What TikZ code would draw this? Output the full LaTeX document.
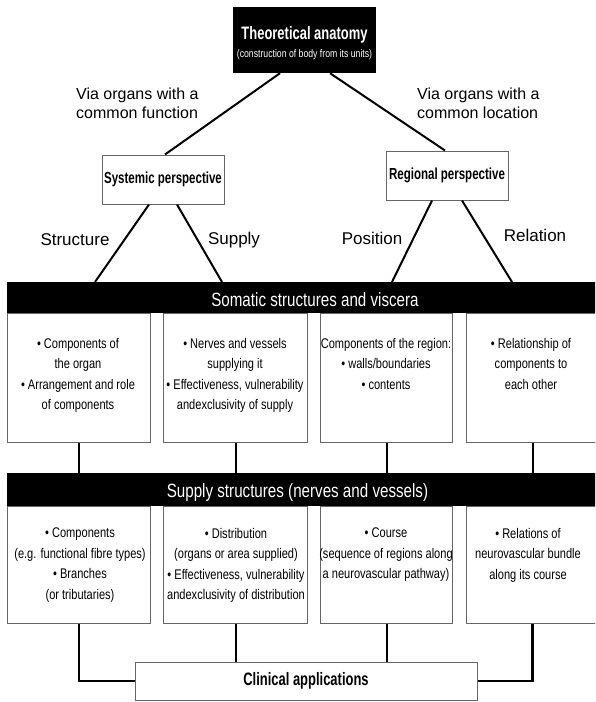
\documentclass[tikz,border=0pt]{standalone}
\usepackage{fontspec}
\setmainfont{Liberation Sans}
\newfontfamily\cellfont[FakeStretch=0.79]{Liberation Sans}
\newfontfamily\boldnarrow[FakeStretch=0.72]{Liberation Sans}
\begin{document}
\begin{tikzpicture}[x=1pt,y=-1pt,
  conn/.style={line width=2pt, draw=black},
  elbow/.style={line width=2.4pt, draw=black, line join=miter},
  persp/.style={draw=black!60, line width=1pt, fill=white, inner sep=0pt,
    font=\boldnarrow\bfseries\fontsize{16}{18}\selectfont},
  cellbox/.style={draw=black!60, line width=1pt, fill=white, inner sep=0pt},
  celltext/.style={font=\cellfont\fontsize{14}{20.5}\selectfont, align=center, anchor=north, inner sep=0pt},
  banner/.style={fill=black, inner sep=0pt, anchor=north west},
  bannertext/.style={text=white, font=\cellfont\fontsize{19.2}{22}\selectfont, inner sep=0pt, anchor=base},
  edgelabel/.style={font=\fontsize{17}{20}\selectfont, anchor=base, inner sep=0pt},
  vialabel/.style={font=\fontsize{16}{19}\selectfont, align=left, anchor=north west, inner sep=0pt},
]
\useasboundingbox (0,0) rectangle (595,702);
\fill[white] (0,0) rectangle (595,702);
\clip (0,0) rectangle (595,702);

% top box
\node[fill=black, minimum width=143pt, minimum height=66pt, inner sep=0pt] (top) at (304.5,40) {};
\node[text=white, font=\boldnarrow\bfseries\fontsize{18}{20}\selectfont, anchor=base, inner sep=0pt] (toptitle) at (304.5,39) {Theoretical anatomy};
\node[text=white, font=\cellfont\fontsize{11}{13}\selectfont, anchor=base, inner sep=0pt] (topsub) at (304.5,57) {(construction of body from its units)};

% perspectives
\node[persp, minimum width=122pt, minimum height=49pt] (sys) at (163,179.5) {Systemic perspective};
\node[persp, minimum width=122pt, minimum height=49pt] (reg) at (447,175.5) {Regional perspective};

\node[vialabel] (lfunction) at (76,88) {Via organs with a\\common function};
\node[vialabel] (llocation) at (417,88) {Via organs with a\\common location};

% row 1 boxes
\node[cellbox, minimum width=143pt, minimum height=129pt, anchor=north west] (s1) at (7,313) {};
\node[cellbox, minimum width=144pt, minimum height=129pt, anchor=north west] (s2) at (163,313) {};
\node[cellbox, minimum width=132pt, minimum height=129pt, anchor=north west] (s3) at (320,313) {};
\node[cellbox, minimum width=132pt, minimum height=129pt, anchor=north west] (s4) at (466,313) {};

% row 2 boxes
\node[cellbox, minimum width=143pt, minimum height=117pt, anchor=north west] (n1) at (7,506) {};
\node[cellbox, minimum width=144pt, minimum height=117pt, anchor=north west] (n2) at (163,506) {};
\node[cellbox, minimum width=132pt, minimum height=117pt, anchor=north west] (n3) at (320,506) {};
\node[cellbox, minimum width=132pt, minimum height=117pt, anchor=north west] (n4) at (466,506) {};

% banners
\node[banner, minimum width=600pt, minimum height=31pt] (bannerA) at (7,282) {};
\node[banner, minimum width=600pt, minimum height=33pt] (bannerB) at (7,473) {};
\node[bannertext] (bannerAtext) at (315,306) {Somatic structures and viscera};
\node[bannertext] (bannerBtext) at (297.5,497) {Supply structures (nerves and vessels)};

% clinical
\node[cellbox, minimum width=342pt, minimum height=38pt, font=\boldnarrow\bfseries\fontsize{18}{20}\selectfont] (clin) at (306,681) {Clinical applications};

% connectors
\draw[conn] ([xshift=-24.5pt]top.south) -- ([xshift=2pt]sys.north);
\draw[conn] ([xshift=25.5pt]top.south) -- ([xshift=-2pt]reg.north);
\draw[conn] ([xshift=-14pt]sys.south) -- (bannerA.north -| 95,0);
\draw[conn] ([xshift=14pt]sys.south) -- (bannerA.north -| 222,0);
\draw[conn] ([xshift=-15pt]reg.south) -- (bannerA.north -| 392,0);
\draw[conn] ([xshift=15pt]reg.south) -- (bannerA.north -| 512,0);

\draw[conn] (s1.south) -- (s1.south |- bannerB.north);
\draw[conn] (s2.south) -- (s2.south |- bannerB.north);
\draw[conn] (s3.south) -- (s3.south |- bannerB.north);
\draw[conn] (s4.south) -- (s4.south |- bannerB.north);

\draw[elbow] (n1.south) |- (clin.west);
\draw[conn] (n2.south) -- (n2.south |- clin.north);
\draw[conn] (n3.south) -- (n3.south |- clin.north);
\draw[elbow] (n4.south) |- (clin.east);

% edge labels
\node[edgelabel] (lstructure) at (75,245) {Structure};
\node[edgelabel] (lsupply) at (234,244) {Supply};
\node[edgelabel] (lposition) at (372,244) {Position};
\node[edgelabel] (lrelation) at (535,241) {Relation};

% cell texts
\node[celltext] (s1t) at (78,338) {• Components of\\the organ\\• Arrangement and role\\of components};
\node[celltext] (s2t) at (235,338) {• Nerves and vessels\\supplying it\\• Effectiveness, vulnerability\\andexclusivity of supply};
\node[celltext] (s3t) at (386,338) {Components of the region:\\• walls/boundaries\\• contents};
\node[celltext] (s4t) at (531,338) {• Relationship of\\components to\\each other};

\node[celltext] (n1t) at (80,528) {• Components\\(e.g. functional fibre types)\\• Branches\\(or tributaries)};
\node[celltext] (n2t) at (236,528) {• Distribution\\(organs or area supplied)\\• Effectiveness, vulnerability\\andexclusivity of distribution};
\node[celltext] (n3t) at (386,528) {• Course\\(sequence of regions along\\a neurovascular pathway)};
\node[celltext] (n4t) at (528,528) {• Relations of\\neurovascular bundle\\along its course};
\end{tikzpicture}
\end{document}
